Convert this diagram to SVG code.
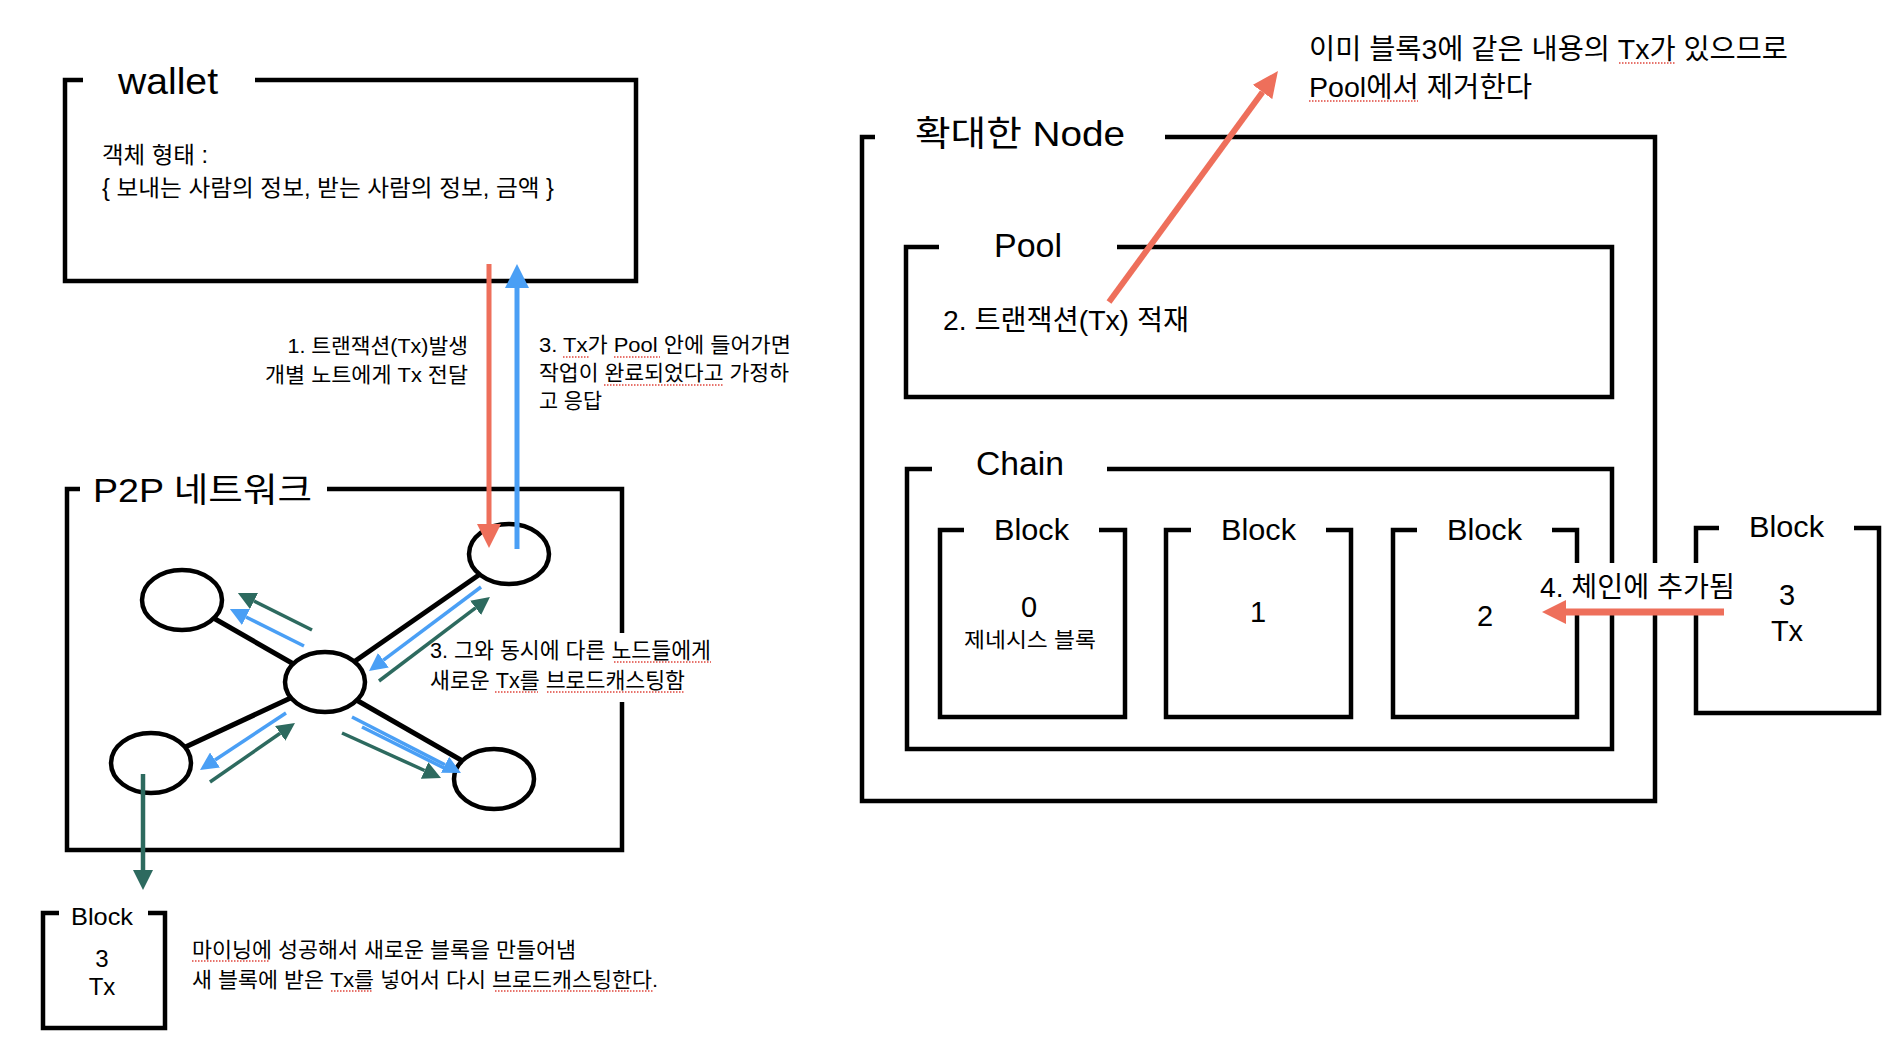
<svg xmlns="http://www.w3.org/2000/svg" width="1898" height="1046" viewBox="0 0 1898 1046">
<style>
text{font-family:"Liberation Sans","Noto Sans CJK KR",sans-serif;fill:#000}
.box{fill:none;stroke:#000;stroke-width:4.5}
.gap{fill:#fff;stroke:none}
.edge{stroke:#000;stroke-width:5}
.peer{fill:#fff;stroke:#000;stroke-width:4.5}
.blue{stroke:#4A9FF5;stroke-width:3.5;fill:none}
.green{stroke:#2D6A5F;stroke-width:3.5;fill:none}
.spell{stroke:#E0453C;stroke-width:1.5;stroke-dasharray:1.5 1.5;fill:none}
.mid{text-anchor:middle}
</style>
<defs>
<marker id="hRed" markerUnits="userSpaceOnUse" viewBox="0 0 24 24" markerWidth="24" markerHeight="24" refX="0" refY="12" orient="auto"><path d="M0,0L24,12L0,24z" fill="#EE6F5B"/></marker>
<marker id="hRedL" markerUnits="userSpaceOnUse" viewBox="0 0 26 24" markerWidth="26" markerHeight="24" refX="0" refY="12" orient="auto"><path d="M0,0L26,12L0,24z" fill="#EE6F5B"/></marker>
<marker id="hBlueBig" markerUnits="userSpaceOnUse" viewBox="0 0 24 24" markerWidth="24" markerHeight="24" refX="0" refY="12" orient="auto"><path d="M0,0L24,12L0,24z" fill="#4A9FF5"/></marker>
<marker id="hBlue" markerUnits="userSpaceOnUse" viewBox="0 0 18 18" markerWidth="18" markerHeight="18" refX="0" refY="9" orient="auto"><path d="M0,0L18,9L0,18z" fill="#4A9FF5"/></marker>
<marker id="hGreen" markerUnits="userSpaceOnUse" viewBox="0 0 18 18" markerWidth="18" markerHeight="18" refX="0" refY="9" orient="auto"><path d="M0,0L18,9L0,18z" fill="#2D6A5F"/></marker>
<marker id="hGreenBig" markerUnits="userSpaceOnUse" viewBox="0 0 20 20" markerWidth="20" markerHeight="20" refX="0" refY="10" orient="auto"><path d="M0,0L20,10L0,20z" fill="#2D6A5F"/></marker>
</defs>
<rect width="1898" height="1046" fill="#fff"/>

<g id="wallet">
<rect class="box" x="65" y="80" width="571" height="201"/>
<rect class="gap" x="83" y="74" width="172" height="12"/>
<text x="118" y="94" font-size="36" textLength="100" lengthAdjust="spacingAndGlyphs">wallet</text>
<text x="102" y="163" font-size="23" textLength="106" lengthAdjust="spacingAndGlyphs">객체 형태 :</text>
<text x="102" y="196" font-size="23" textLength="452" lengthAdjust="spacingAndGlyphs">{ 보내는 사람의 정보, 받는 사람의 정보, 금액 }</text>
</g>

<g id="p2p-network">
<rect class="box" x="67" y="489" width="555" height="361"/>
<rect class="gap" x="80" y="483" width="247" height="12"/>
<text x="93" y="502" font-size="34" textLength="219" lengthAdjust="spacingAndGlyphs">P2P 네트워크</text>
<line class="edge" x1="325" y1="682" x2="509" y2="554"/>
<line class="edge" x1="325" y1="682" x2="182" y2="600"/>
<line class="edge" x1="325" y1="682" x2="151" y2="763"/>
<line class="edge" x1="325" y1="682" x2="494" y2="779"/>
</g>
<g id="peer-top-right"><ellipse class="peer" cx="509" cy="554" rx="40" ry="30"/></g>
<g id="peer-left"><ellipse class="peer" cx="182" cy="600" rx="40" ry="30"/></g>
<g id="peer-center"><ellipse class="peer" cx="325" cy="682" rx="40" ry="30"/></g>
<g id="peer-bottom-left"><ellipse class="peer" cx="151" cy="763" rx="40" ry="30"/></g>
<g id="peer-bottom-right"><ellipse class="peer" cx="494" cy="779" rx="40" ry="30"/></g>

<g id="note-broadcast">
<rect class="gap" x="425" y="633" width="292" height="69"/>
<text x="430" y="658" font-size="22" textLength="281" lengthAdjust="spacingAndGlyphs">3. 그와 동시에 다른 노드들에게</text>
<text x="430" y="688" font-size="22" textLength="255" lengthAdjust="spacingAndGlyphs">새로운 Tx를 브로드캐스팅함</text>
<line class="spell" x1="614" y1="662" x2="711" y2="662"/>
<line class="spell" x1="495" y1="692" x2="538" y2="692"/>
<line class="spell" x1="547" y1="692" x2="685" y2="692"/>
</g>

<g id="note-tx">
<text x="287.5" y="353" font-size="21" textLength="180.5" lengthAdjust="spacingAndGlyphs">1. 트랜잭션(Tx)발생</text>
<text x="265" y="382" font-size="21" textLength="203" lengthAdjust="spacingAndGlyphs">개별 노트에게 Tx 전달</text>
</g>
<g id="note-response">
<text x="539" y="352" font-size="21" textLength="252" lengthAdjust="spacingAndGlyphs">3. Tx가 Pool 안에 들어가면</text>
<text x="539" y="380" font-size="21" textLength="250" lengthAdjust="spacingAndGlyphs">작업이 완료되었다고 가정하</text>
<text x="539" y="408" font-size="21" textLength="63" lengthAdjust="spacingAndGlyphs">고 응답</text>
<line class="spell" x1="563" y1="357" x2="590" y2="357"/>
<line class="spell" x1="614" y1="357" x2="660" y2="357"/>
<line class="spell" x1="604" y1="385" x2="723" y2="385"/>
</g>

<g id="new-block">
<rect class="box" x="43" y="913" width="122" height="115"/>
<rect class="gap" x="59" y="907" width="89" height="12"/>
<text x="71" y="925" font-size="24" textLength="62" lengthAdjust="spacingAndGlyphs">Block</text>
<text class="mid" x="102" y="967" font-size="24">3</text>
<text class="mid" x="102" y="995" font-size="24">Tx</text>
</g>
<g id="note-mining">
<text x="192" y="957" font-size="21" textLength="384" lengthAdjust="spacingAndGlyphs">마이닝에 성공해서 새로운 블록을 만들어냄</text>
<text x="192" y="987" font-size="21" textLength="466" lengthAdjust="spacingAndGlyphs">새 블록에 받은 Tx를 넣어서 다시 브로드캐스팅한다.</text>
<line class="spell" x1="192" y1="961" x2="270" y2="961"/>
<line class="spell" x1="331" y1="991" x2="373" y2="991"/>
<line class="spell" x1="495" y1="991" x2="653" y2="991"/>
</g>

<g id="node-detail">
<rect class="box" x="862" y="137" width="793" height="664"/>
<rect class="gap" x="875" y="131" width="290" height="12"/>
<text x="915" y="146" font-size="35" textLength="210" lengthAdjust="spacingAndGlyphs">확대한 Node</text>
</g>
<g id="pool">
<rect class="box" x="906" y="247" width="706" height="150"/>
<rect class="gap" x="939" y="241" width="178" height="12"/>
<text x="994" y="257" font-size="33" textLength="68" lengthAdjust="spacingAndGlyphs">Pool</text>
<text x="943" y="330" font-size="28" textLength="246" lengthAdjust="spacingAndGlyphs">2. 트랜잭션(Tx) 적재</text>
</g>
<g id="note-remove">
<text x="1309" y="59" font-size="28" textLength="479" lengthAdjust="spacingAndGlyphs">이미 블록3에 같은 내용의 Tx가 있으므로</text>
<text x="1309" y="97" font-size="28" textLength="223" lengthAdjust="spacingAndGlyphs">Pool에서 제거한다</text>
<line class="spell" x1="1619" y1="63" x2="1676" y2="63"/>
<line class="spell" x1="1309" y1="101" x2="1418" y2="101"/>
</g>
<g id="chain">
<rect class="box" x="907" y="469" width="705" height="280"/>
<rect class="gap" x="932" y="463" width="175" height="12"/>
<text x="976" y="475" font-size="33" textLength="88" lengthAdjust="spacingAndGlyphs">Chain</text>
</g>
<g id="block-0">
<rect class="box" x="940" y="530" width="185" height="187"/>
<rect class="gap" x="964" y="524" width="135" height="12"/>
<text x="994" y="540" font-size="29" textLength="75" lengthAdjust="spacingAndGlyphs">Block</text>
<text class="mid" x="1029" y="617" font-size="29">0</text>
<text x="964" y="647" font-size="21" textLength="132" lengthAdjust="spacingAndGlyphs">제네시스 블록</text>
</g>
<g id="block-1">
<rect class="box" x="1166" y="530" width="185" height="187"/>
<rect class="gap" x="1191" y="524" width="135" height="12"/>
<text x="1221" y="540" font-size="29" textLength="75" lengthAdjust="spacingAndGlyphs">Block</text>
<text class="mid" x="1258" y="622" font-size="29">1</text>
</g>
<g id="block-2">
<rect class="box" x="1393" y="530" width="184" height="187"/>
<rect class="gap" x="1417" y="524" width="135" height="12"/>
<text x="1447" y="540" font-size="29" textLength="75" lengthAdjust="spacingAndGlyphs">Block</text>
<text class="mid" x="1485" y="626" font-size="29">2</text>
</g>
<g id="block-3">
<rect class="box" x="1696" y="528" width="183" height="185"/>
<rect class="gap" x="1719" y="522" width="135" height="12"/>
<text x="1749" y="537" font-size="29" textLength="75" lengthAdjust="spacingAndGlyphs">Block</text>
<text class="mid" x="1787" y="605" font-size="29">3</text>
<text class="mid" x="1787" y="641" font-size="29">Tx</text>
</g>
<g id="note-append">
<rect class="gap" x="1536" y="563" width="209" height="48"/>
<text x="1540" y="597" font-size="28" textLength="195" lengthAdjust="spacingAndGlyphs">4. 체인에 추가됨</text>
</g>

<g id="connectors">
<line x1="489" y1="264" x2="489" y2="524" stroke="#EE6F5B" stroke-width="5" marker-end="url(#hRed)"/>
<line x1="517" y1="549" x2="517" y2="288" stroke="#4A9FF5" stroke-width="5" marker-end="url(#hBlueBig)"/>
<line class="green" x1="312" y1="630" x2="254" y2="601" marker-end="url(#hGreen)"/>
<line class="blue" x1="304" y1="646" x2="246" y2="617" marker-end="url(#hBlue)"/>
<line class="blue" x1="481" y1="587" x2="383.4" y2="660.2" marker-end="url(#hBlue)"/>
<line class="green" x1="379" y1="681" x2="475.6" y2="607.9" marker-end="url(#hGreen)"/>
<line class="blue" x1="286" y1="713" x2="215" y2="760" marker-end="url(#hBlue)"/>
<line class="green" x1="210" y1="782" x2="280.2" y2="733.3" marker-end="url(#hGreen)"/>
<line class="blue" x1="362" y1="727" x2="448" y2="770"/>
<line class="blue" x1="352" y1="717" x2="445" y2="764.8" marker-end="url(#hBlue)"/>
<line class="green" x1="342" y1="733" x2="424.6" y2="770.5" marker-end="url(#hGreen)"/>
<line x1="143" y1="774" x2="143" y2="870" stroke="#2D6A5F" stroke-width="4.5" marker-end="url(#hGreenBig)"/>
<line x1="1109" y1="302" x2="1262.6" y2="92" stroke="#EE6F5B" stroke-width="6" marker-end="url(#hRedL)"/>
<line x1="1724" y1="612" x2="1566" y2="612" stroke="#EE6F5B" stroke-width="7" marker-end="url(#hRed)"/>
</g>
</svg>
